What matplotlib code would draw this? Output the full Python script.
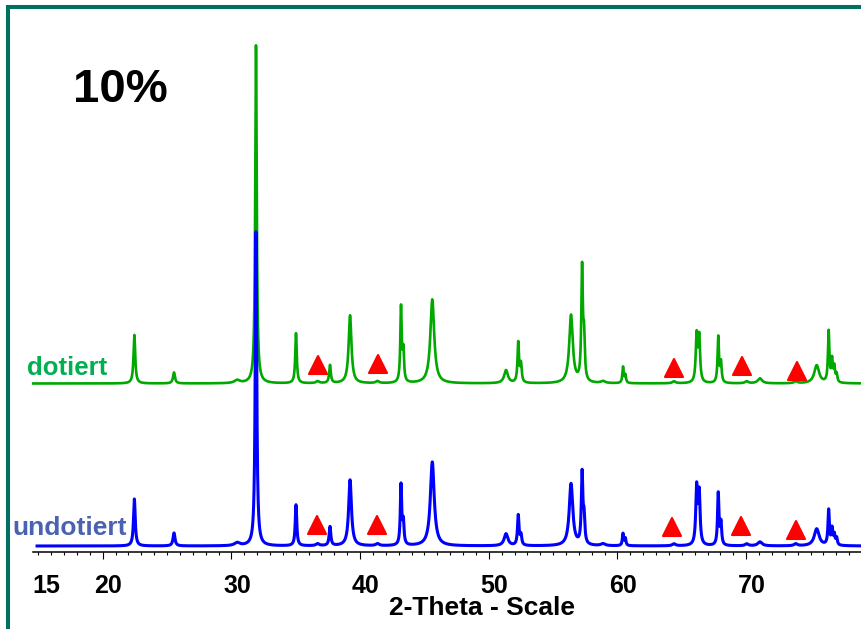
import numpy as np
import matplotlib
matplotlib.use("Agg")
import matplotlib.pyplot as plt
from matplotlib.lines import Line2D
from matplotlib.markers import MarkerStyle
from matplotlib.transforms import ScaledTranslation

plt.rcParams['font.family'] = ['Liberation Sans', 'DejaVu Sans']
plt.rcParams['font.weight'] = 'bold'

# peak table (2-theta, FWHM in degrees)
peak_pos = [22.46, 25.54, 30.45, 31.91, 35.02, 36.70, 37.66, 39.22, 41.35, 43.18,
            43.36, 45.61, 51.34, 52.29, 52.50, 56.39, 57.25, 57.40, 58.88, 60.43,
            60.61, 64.39, 66.15, 66.35, 67.83, 68.04, 70.04, 71.07, 73.85, 75.48,
            76.41, 76.67, 76.85, 77.03]
peak_fwhm = [0.16, 0.18, 0.5, 0.14, 0.14, 0.3, 0.15, 0.26, 0.3, 0.13,
             0.13, 0.36, 0.35, 0.14, 0.14, 0.33, 0.14, 0.14, 0.4, 0.12,
             0.12, 0.3, 0.16, 0.16, 0.13, 0.13, 0.3, 0.4, 0.3, 0.45,
             0.13, 0.13, 0.13, 0.13]
undoped_height = [47, 13, 3, 314, 41, 2, 19, 66, 2, 60,
                  22, 84, 12, 30, 10, 62, 70, 25, 2, 12,
                  7, 2, 57, 51, 52, 22, 2, 4, 2, 17,
                  35, 16, 10, 7]
doped_height = [48.5, 11, 3, 338, 50, 2, 18, 68, 2, 75,
                30, 84, 13, 40, 18, 68, 112, 40, 2, 16,
                8, 2, 47, 45, 46, 20, 2, 5, 2, 18,
                51, 22, 15, 8]
doped_offset = 162.5
undoped_start, doped_start, scan_end = 14.9, 14.6, 79.0

# secondary phase markers
tri_undoped_x = [36.63, 41.29, 64.24, 69.57, 73.85]
tri_undoped_y = [21, 21, 19, 20, 16]
tri_doped_x = [36.75, 41.41, 64.37, 69.70, 73.95]
tri_doped_y = [181.5, 182, 178.5, 180, 175]

tick_vals = [15, 20, 30, 40, 50, 60, 70]


def pattern(x, heights):
    y = np.zeros_like(x)
    for p, w, h in zip(peak_pos, peak_fwhm, heights):
        y += h / (1 + ((x - p) / (w / 2)) ** 2)
    return y


fig = plt.figure(figsize=(8.62, 6.29), dpi=100)
ax = fig.add_axes([0, 0, 1, 1])
ax.set_xlim(12.02, 79.0)
ax.set_ylim(-83, 546)

x_doped = np.arange(doped_start, scan_end, 0.01)
x_undoped = np.arange(undoped_start, scan_end, 0.01)
ax.plot(x_doped, pattern(x_doped, doped_height) + doped_offset,
        color='#00a800', lw=1.9)
ax.plot(x_undoped, pattern(x_undoped, undoped_height),
        color='#0000ff', lw=2.2)

tri = MarkerStyle('^', joinstyle='round')
for xs, ys in [(tri_undoped_x, tri_undoped_y), (tri_doped_x, tri_doped_y)]:
    ax.plot(xs, ys, ls='none', marker=tri, ms=12.5, mfc='#ff0000',
            mec='#ff0000', mew=1.5)

# axis styling
for s in ['left', 'right', 'top']:
    ax.spines[s].set_visible(False)
ax.spines['bottom'].set_position(('data', -6))
ax.spines['bottom'].set_bounds(14.56, 79.0)
ax.spines['bottom'].set_linewidth(1.1)
ax.set_yticks([])
ax.set_xticks(tick_vals, [str(t) for t in tick_vals])
ax.set_xticks(np.arange(15, 79, 1), minor=True)
ax.tick_params(axis='x', which='major', direction='out', length=5, width=0.8,
               pad=11, labelsize=18)
ax.tick_params(axis='x', which='minor', direction='out', length=2.3, width=0.8)
ax.xaxis.get_major_ticks()[0].tick1line.set_markersize(2.3)
for i, lab in enumerate(ax.get_xticklabels()):
    dx = 7.5 if i == 0 else 5.5
    lab.set_transform(lab.get_transform() + ScaledTranslation(dx / 100, 0, fig.dpi_scale_trans))

ax.text(49.47, -69, '2-Theta - Scale', fontsize=19, ha='center', va='baseline')

W, H = 862, 629
fig.text(73 / W, 1 - 101.7 / H, '10%', fontsize=34, va='baseline')
fig.text(27 / W, 1 - 375 / H, 'dotiert', fontsize=18.5, color='#00b050', va='baseline')
fig.text(12 / W, 1 - 535 / H, 'undotiert', fontsize=19, color='#4a62b0', va='baseline')

# teal frame (left and top edge visible)
fig.add_artist(Line2D([1.05, 8 / W, 8 / W], [1 - 7 / H, 1 - 7 / H, -0.05],
                      color='#007060', lw=2.9, solid_joinstyle='miter'))

fig.savefig('out.png', dpi=100)
